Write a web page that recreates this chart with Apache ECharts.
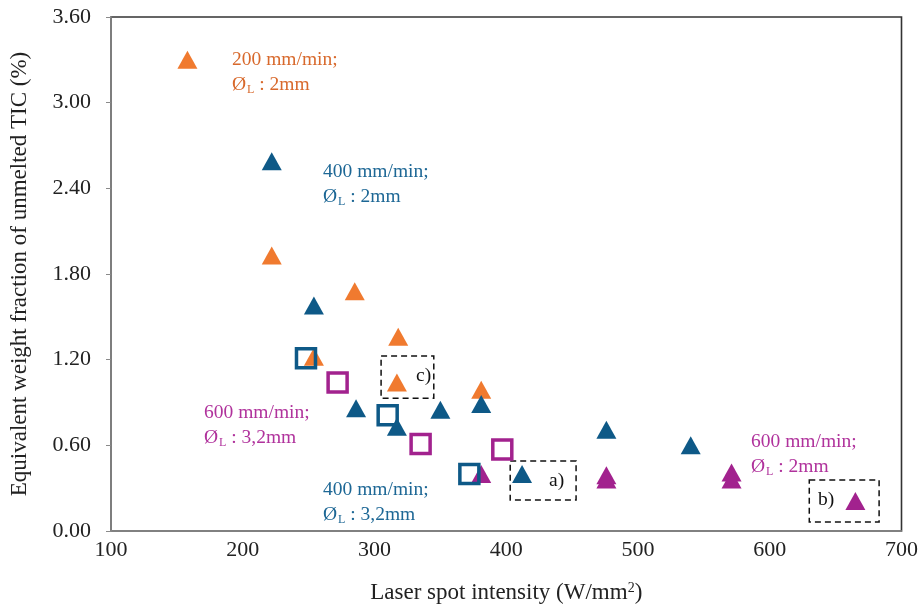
<!DOCTYPE html>
<html><head><meta charset="utf-8">
<script src="https://cdn.jsdelivr.net/npm/echarts@6/dist/echarts.min.js"></script>
<style>html,body{margin:0;padding:0;background:#fff}#c{width:921px;height:611px}</style>
</head><body><div id="c"></div>
<script>
// Data
const xTicks = [100, 200, 300, 400, 500, 600, 700];
const yTicks = [0, 0.6, 1.2, 1.8, 2.4, 3.0, 3.6];
const s200_2_x = [158, 222, 285, 318, 254, 317, 381];
const s200_2_y = [3.30, 1.93, 1.68, 1.36, 1.22, 1.04, 0.99];
const s400_2_x = [222, 254, 286, 317, 350, 381, 476, 540, 412];
const s400_2_y = [2.59, 1.58, 0.86, 0.73, 0.85, 0.89, 0.71, 0.60, 0.40];
const s600_2_x = [381, 476, 476, 571, 571, 665];
const s600_2_y = [0.40, 0.39, 0.36, 0.41, 0.36, 0.21];
const s400_32_x = [248, 310, 372];
const s400_32_y = [1.21, 0.81, 0.40];
const s600_32_x = [272, 335, 397];
const s600_32_y = [1.04, 0.61, 0.57];
const boxes = [
  {name: 'c)', x: [305, 345], y: [0.93, 1.225]},
  {name: 'a)', x: [403, 453], y: [0.217, 0.49]},
  {name: 'b)', x: [630, 683], y: [0.063, 0.357]}
];

const ORANGE = '#F07A2F', BLUE = '#0E5987', MAGENTA = '#A2228E';
const ORANGE_T = '#D8692C', BLUE_T = '#1D6795', MAGENTA_T = '#B0329C';
const FONT = '"Liberation Serif", "DejaVu Serif", serif';

function pts(xs, ys) { return xs.map((x, i) => [x, ys[i]]); }

const chart = echarts.init(document.getElementById('c'), null, {renderer: 'canvas'});

function label(left, top, line1, tail, color) {
  return {
    type: 'text', left: left, top: top, z: 100,
    style: {
      rich: {
        a: {fontFamily: FONT, fontSize: 19.5, fill: color, color: color, lineHeight: 25},
        s: {fontFamily: FONT, fontSize: 12, fill: color, color: color, padding: [9, 0, 0, 1], lineHeight: 25}
      },
      text: '{a|' + line1 + '}\n{a|Ø}{s|L}{a|' + tail + '}',
      font: '19.5px ' + FONT
    }
  };
}

const option = {
  animation: false,
  backgroundColor: '#fff',
  grid: {left: 110, right: 17, top: 17, bottom: 80, show: true, borderColor: '#333', borderWidth: 1.6, containLabel: false},
  xAxis: {
    type: 'value', min: xTicks[0], max: xTicks[xTicks.length - 1], interval: 100,
    name: 'Laser spot intensity (W/mm{sup|2})', nameLocation: 'middle', nameGap: 50,
    nameTextStyle: {fontFamily: FONT, fontSize: 23, color: '#222', rich: {sup: {fontFamily: FONT, fontSize: 14, color: '#222', padding: [0, 0, 9, 0]}}},
    axisLine: {show: true, lineStyle: {color: '#8a8a8a', width: 1.5}},
    axisTick: {show: false},
    axisLabel: {fontFamily: FONT, fontSize: 22, color: '#222', margin: 8},
    splitLine: {show: false}
  },
  yAxis: {
    type: 'value', min: yTicks[0], max: yTicks[yTicks.length - 1], interval: 0.6,
    name: 'Equivalent weight fraction of unmelted TIC (%)', nameLocation: 'middle', nameGap: 80,
    nameTextStyle: {fontFamily: FONT, fontSize: 23, color: '#222'},
    axisLine: {show: true, lineStyle: {color: '#8a8a8a', width: 1.5}},
    axisTick: {show: true, inside: false, length: 5, lineStyle: {color: '#8a8a8a'}},
    axisLabel: {fontFamily: FONT, fontSize: 22, color: '#222', margin: 20, formatter: v => v.toFixed(2)},
    splitLine: {show: false}
  },
  series: [
    {name: '200 mm/min; 2mm', type: 'scatter', symbol: 'triangle', symbolSize: [20, 18], z: 3,
      itemStyle: {color: ORANGE, opacity: 1}, data: pts(s200_2_x, s200_2_y),
      markArea: {
        silent: true,
        itemStyle: {color: 'rgba(0,0,0,0)', borderColor: '#111', borderWidth: 1.5, borderType: [6, 4]},
        label: {show: false},
        data: boxes.map(b => [{coord: [b.x[0], b.y[1]]}, {coord: [b.x[1], b.y[0]]}])
      }
    },
    {name: '400 mm/min; 2mm', type: 'scatter', symbol: 'triangle', symbolSize: [20, 18], z: 4,
      itemStyle: {color: BLUE, opacity: 1}, data: pts(s400_2_x, s400_2_y)},
    {name: '600 mm/min; 2mm', type: 'scatter', symbol: 'triangle', symbolSize: [20, 18], z: 4,
      itemStyle: {color: MAGENTA, opacity: 1}, data: pts(s600_2_x, s600_2_y)},
    {name: '400 mm/min; 3,2mm', type: 'scatter', symbol: 'rect', symbolSize: 19, z: 5,
      itemStyle: {color: 'rgba(255,255,255,0)', borderColor: BLUE, borderWidth: 3.5, opacity: 1}, data: pts(s400_32_x, s400_32_y)},
    {name: '600 mm/min; 3,2mm', type: 'scatter', symbol: 'rect', symbolSize: 19, z: 5,
      itemStyle: {color: 'rgba(255,255,255,0)', borderColor: MAGENTA, borderWidth: 3.5, opacity: 1}, data: pts(s600_32_x, s600_32_y)}
  ],
  graphic: [
    label(232, 50, '200 mm/min;', ' : 2mm', ORANGE_T),
    label(323, 162, '400 mm/min;', ' : 2mm', BLUE_T),
    label(204, 403, '600 mm/min;', ' : 3,2mm', MAGENTA_T),
    label(323, 480, '400 mm/min;', ' : 3,2mm', BLUE_T),
    label(751, 432, '600 mm/min;', ' : 2mm', MAGENTA_T),
    {type: 'text', left: 416, top: 366, style: {text: 'c)', font: '19.5px ' + FONT, fill: '#111'}},
    {type: 'text', left: 549, top: 471, style: {text: 'a)', font: '19.5px ' + FONT, fill: '#111'}},
    {type: 'text', left: 818, top: 490, style: {text: 'b)', font: '19.5px ' + FONT, fill: '#111'}}
  ]
};
chart.setOption(option);
</script></body></html>
